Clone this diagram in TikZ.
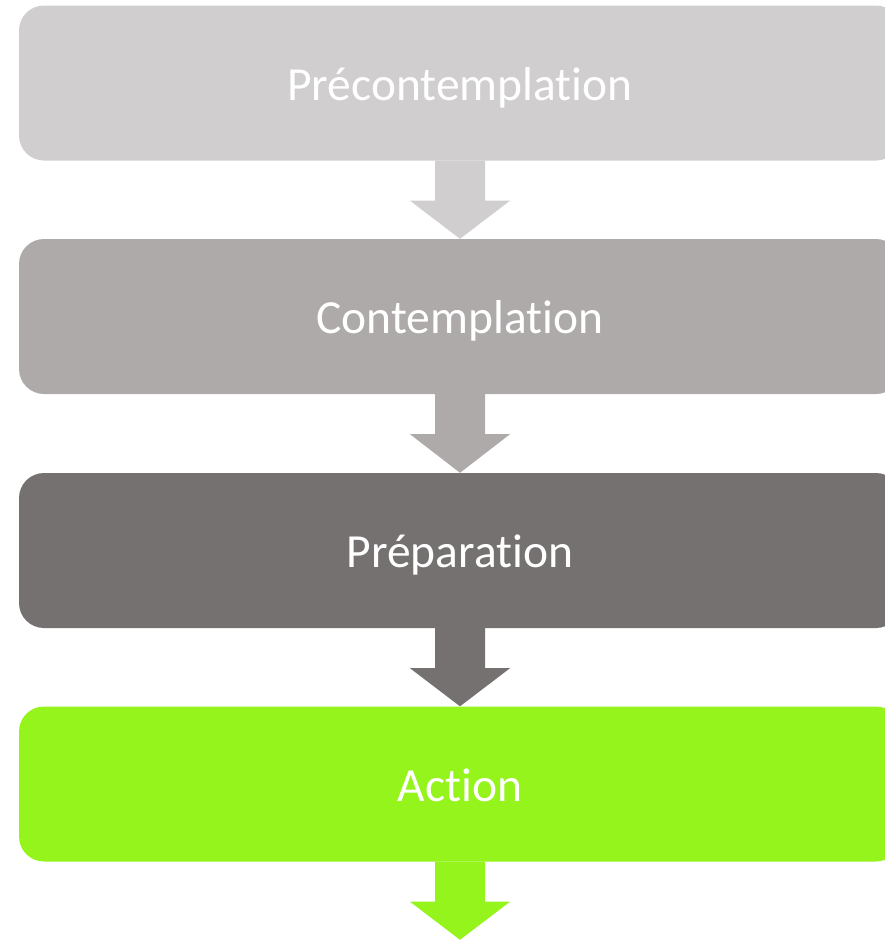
\documentclass[tikz,border=0pt]{standalone}
\usepackage{fontspec}
\setmainfont{Carlito}[Ligatures=NoCommon]
\newcommand{\lowtext}[1]{\raisebox{-17pt}[0pt][0pt]{#1}}
\begin{document}
\begin{tikzpicture}[x=1pt,y=1pt,
  stagebox/.style={minimum width=882pt, minimum height=155pt, rounded corners=25pt, inner sep=0pt,
    text=white, font=\fontsize{47.5}{57}\selectfont}]
\definecolor{cA}{HTML}{D0CECE}
\definecolor{cB}{HTML}{AEAAAA}
\definecolor{cC}{HTML}{767171}
\definecolor{cD}{HTML}{94F41C}
\useasboundingbox (0,0) rectangle (884,-940);
\node[stagebox, fill=cA] (b1) at (460,-83) {\lowtext{Précontemplation}};
\node[stagebox, fill=cB] (b2) at (460,-316.5) {\lowtext{Contemplation}};
\node[stagebox, fill=cC] (b3) at (460,-550.5) {\lowtext{Préparation}};
\node[stagebox, fill=cD] (b4) at (460,-784) {\lowtext{Action}};
\node[inner sep=0pt, minimum size=0pt] (end) at (460,-940) {};
\foreach \a/\b/\c in {b1/b2/cA, b2/b3/cB, b3/b4/cC, b4/end/cD}{
  \fill[\c] ([xshift=-25pt]\a.south) -- ([xshift=-25pt,yshift=-40pt]\a.south)
    -- ([xshift=-50pt,yshift=-40pt]\a.south) -- (\b.north) -- ([xshift=50pt,yshift=-40pt]\a.south)
    -- ([xshift=25pt,yshift=-40pt]\a.south) -- ([xshift=25pt]\a.south) -- cycle;
}
\end{tikzpicture}
\end{document}
